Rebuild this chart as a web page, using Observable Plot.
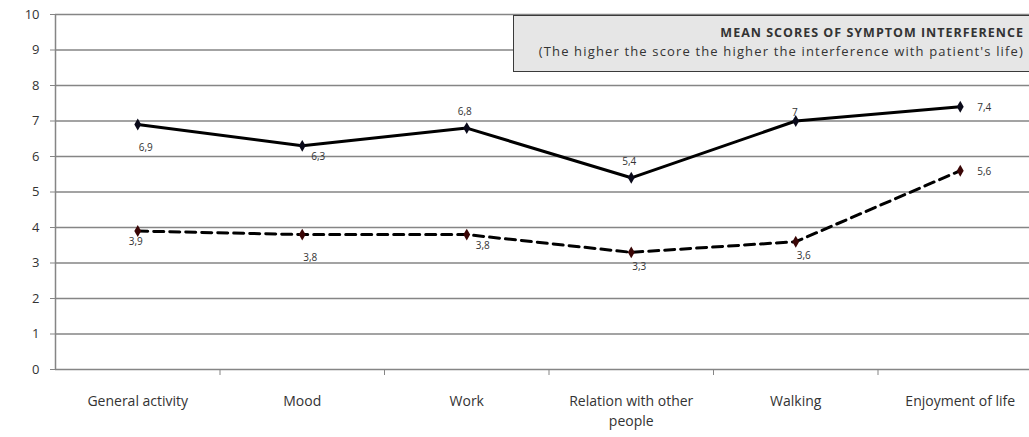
<!DOCTYPE html>
<html>
<head>
<meta charset="utf-8">
<script src="https://cdn.jsdelivr.net/npm/d3@7"></script>
<script src="https://cdn.jsdelivr.net/npm/@observablehq/plot@0.6"></script>
<style>
  html, body { margin: 0; padding: 0; background: #fff; overflow: hidden; }
  #wrap { position: relative; width: 1029px; height: 437px; }
  #titlebox {
    position: absolute; left: 513px; top: 15px; width: 530px; height: 57px;
    background: #e6e6e6; border: 1.5px solid #3a3a3a; box-sizing: border-box;
    font-family: "Open Sans", sans-serif; color: #333; text-align: right;
    padding-right: 18px;
  }
  #titlebox .t { font-weight: bold; font-size: 12.5px; letter-spacing: 1px; margin-top: 8px; line-height: 18px; }
  #titlebox .s { font-size: 13px; letter-spacing: 1.15px; line-height: 19px; }
</style>
</head>
<body>
<div id="wrap">
  <div id="chart"></div>
  <div id="titlebox">
    <div class="t">MEAN SCORES OF SYMPTOM INTERFERENCE</div>
    <div class="s">(The higher the score the higher the interference with patient's life)</div>
  </div>
</div>
<script>
const categories = ["General activity", "Mood", "Work", "Relation with other\npeople", "Walking", "Enjoyment of life"];
const seriesSolid = [6.9, 6.3, 6.8, 5.4, 7, 7.4];
const seriesDashed = [3.9, 3.8, 3.8, 3.3, 3.6, 5.6];
const yTicks = [0, 1, 2, 3, 4, 5, 6, 7, 8, 9, 10];

// label placement (style only)
const solidPlace = ["below", "belowRight", "above", "above", "aboveClose", "right"];
const dashedPlace = ["belowClose", "below", "belowRight", "belowRightClose", "belowRightClose", "right"];

const rows = [];
categories.forEach((c, i) => {
  rows.push({i, v: seriesSolid[i], s: "solid", place: solidPlace[i]});
  rows.push({i, v: seriesDashed[i], s: "dashed", place: dashedPlace[i]});
});
const solid = rows.filter(d => d.s === "solid");
const dashed = rows.filter(d => d.s === "dashed");
const fmt = v => String(v).replace(".", ",");

const offsets = {
  below: [8, 23], belowRight: [16, 11], above: [-2, -16], aboveClose: [-1, -8],
  right: [24, 1], belowClose: [-2, 11], belowRightClose: [8, 14]
};
const labelMarks = Object.entries(offsets).map(([k, [dx, dy]]) =>
  Plot.text(rows.filter(d => d.place === k), {
    x: "i", y: "v", text: d => fmt(d.v), dx, dy,
    fontSize: 10, fill: "#333", fontFamily: "'Open Sans', sans-serif",
    style: "letter-spacing: 0.6px"
  })
);

const boundaries = d3.range(categories.length - 1).map(i => i + 0.5);

const chart = Plot.plot({
  width: 1029,
  height: 437,
  marginTop: 14,
  marginBottom: 68,
  marginLeft: 55,
  marginRight: 0,
  style: {fontFamily: "'Open Sans', sans-serif", color: "#333", background: "#fff"},
  x: {type: "linear", domain: [-0.5, categories.length - 0.5], range: [55, 1042]},
  y: {domain: [0, 10], range: [369, 14]},
  marks: [
    Plot.ruleY(yTicks, {x1: -0.5, x2: categories.length - 0.5, stroke: "#858585", strokeWidth: 1.5}),
    Plot.ruleX([-0.5], {y1: 0, y2: 10, stroke: "#858585", strokeWidth: 1.5}),
    Plot.axisY({ticks: yTicks, tickSize: 5, tickPadding: 11, fontSize: 13, stroke: "#858585", label: null}),
    Plot.axisX({ticks: boundaries, tickSize: 6, tickFormat: () => "", stroke: "#858585", label: null}),
    Plot.axisX({ticks: d3.range(categories.length), tickSize: 0, tickPadding: 22, lineAnchor: "top",
      lineHeight: 1.45, tickFormat: i => categories[i], fontSize: 14, fill: "#333", label: null}),
    Plot.line(solid, {x: "i", y: "v", stroke: "#000", strokeWidth: 3}),
    Plot.line(dashed, {x: "i", y: "v", stroke: "#000", strokeWidth: 3, strokeDasharray: "10,6"}),
    Plot.dot(solid, {x: "i", y: "v", symbol: "diamond", r: 3.6, fill: "#0a0a1a", stroke: "none"}),
    Plot.dot(dashed, {x: "i", y: "v", symbol: "diamond", r: 3.6, fill: "#3a0606", stroke: "none"}),
    ...labelMarks
  ]
});
document.getElementById("chart").appendChild(chart);
</script>
</body>
</html>
